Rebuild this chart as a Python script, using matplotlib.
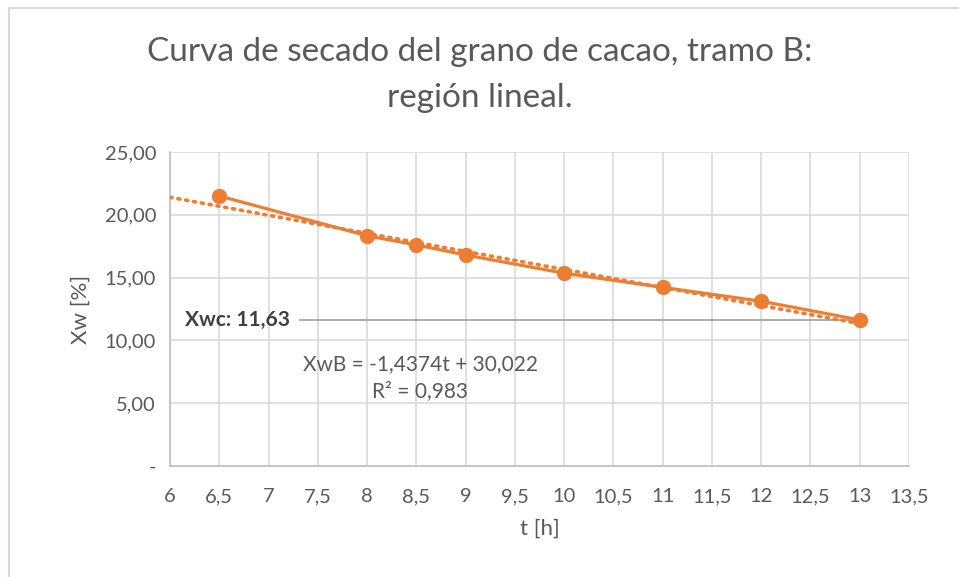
import numpy as np
import matplotlib.pyplot as plt
from matplotlib.lines import Line2D
from matplotlib.ticker import FuncFormatter, MultipleLocator

plt.rcParams['font.family'] = ['Lato', 'DejaVu Sans']

# data
t = [6.5, 8, 8.5, 9, 10, 11, 12, 13]
xw = [21.5, 18.33, 17.6, 16.8, 15.35, 14.22, 13.12, 11.63]
slope, intercept = -1.4374, 30.022
trend_t = [6, 13]
xwc = 11.63
xwc_t = [7.32, 13]

ORANGE = '#ED7D31'
TXT = '#595959'

fig = plt.figure(figsize=(9.59, 5.77), dpi=100)
ax = fig.add_axes([170/959, 1-466/577, (909-170)/959, (466-152)/577])

# chart border (only left and top visible in the crop)
bx, by = 8.5/959, 1-7.5/577
fig.add_artist(Line2D([bx, bx], [0, by], transform=fig.transFigure, color='#d9d9d9', linewidth=1.5))
fig.add_artist(Line2D([bx, 1], [by, by], transform=fig.transFigure, color='#d9d9d9', linewidth=1.5))

ax.plot(xwc_t, [xwc, xwc], color='#a6a6a6', linewidth=1.3, zorder=2)
tt = np.array(trend_t)
ax.plot(tt, slope*tt + intercept, color=ORANGE, linestyle=(0, (0.6, 1.6)), linewidth=2.6,
        dash_capstyle='round', zorder=3)
ax.plot(t, xw, color=ORANGE, linewidth=2.3, marker='o', markersize=10, zorder=4)

ax.set_xlim(6, 13.5)
ax.set_ylim(0, 25)
ax.xaxis.set_major_locator(MultipleLocator(0.5))
ax.yaxis.set_major_locator(MultipleLocator(5))
ax.xaxis.set_major_formatter(FuncFormatter(lambda v, p: ('%g' % v).replace('.', ',')))
ax.yaxis.set_major_formatter(FuncFormatter(lambda v, p: '-' if v == 0 else ('%.2f' % v).replace('.', ',')))
ax.grid(True, color='#d9d9d9', linewidth=1.2)
ax.set_axisbelow(True)
for s in ['top', 'right']:
    ax.spines[s].set_visible(False)
for s in ['left', 'bottom']:
    ax.spines[s].set_color('#bfbfbf')
    ax.spines[s].set_linewidth(1.2)
ax.tick_params(length=0, labelsize=14.5, colors=TXT, pad=16)
ax.tick_params(axis='y', pad=10)

ax.set_xlabel('t [h]', fontsize=16, color=TXT, labelpad=10)
ax.set_ylabel('Xw [%]', fontsize=16, color=TXT, labelpad=10)

fig.text(0.5, 1-52/577, 'Curva de secado del grano de cacao, tramo B:', ha='center', va='center',
         fontsize=24, color=TXT)
fig.text(0.5, 1-98/577, 'región lineal.', ha='center', va='center', fontsize=24, color=TXT)

ax.text(7.22, xwc, 'Xwc: 11,63', ha='right', va='center', fontsize=15, fontweight='bold', color='#404040')
ax.text(8.54, 7.05, 'XwB = -1,4374t + 30,022\nR² = 0,983', ha='center', va='center',
        fontsize=15, color=TXT, linespacing=1.45)

fig.savefig('out.png', dpi=100)
